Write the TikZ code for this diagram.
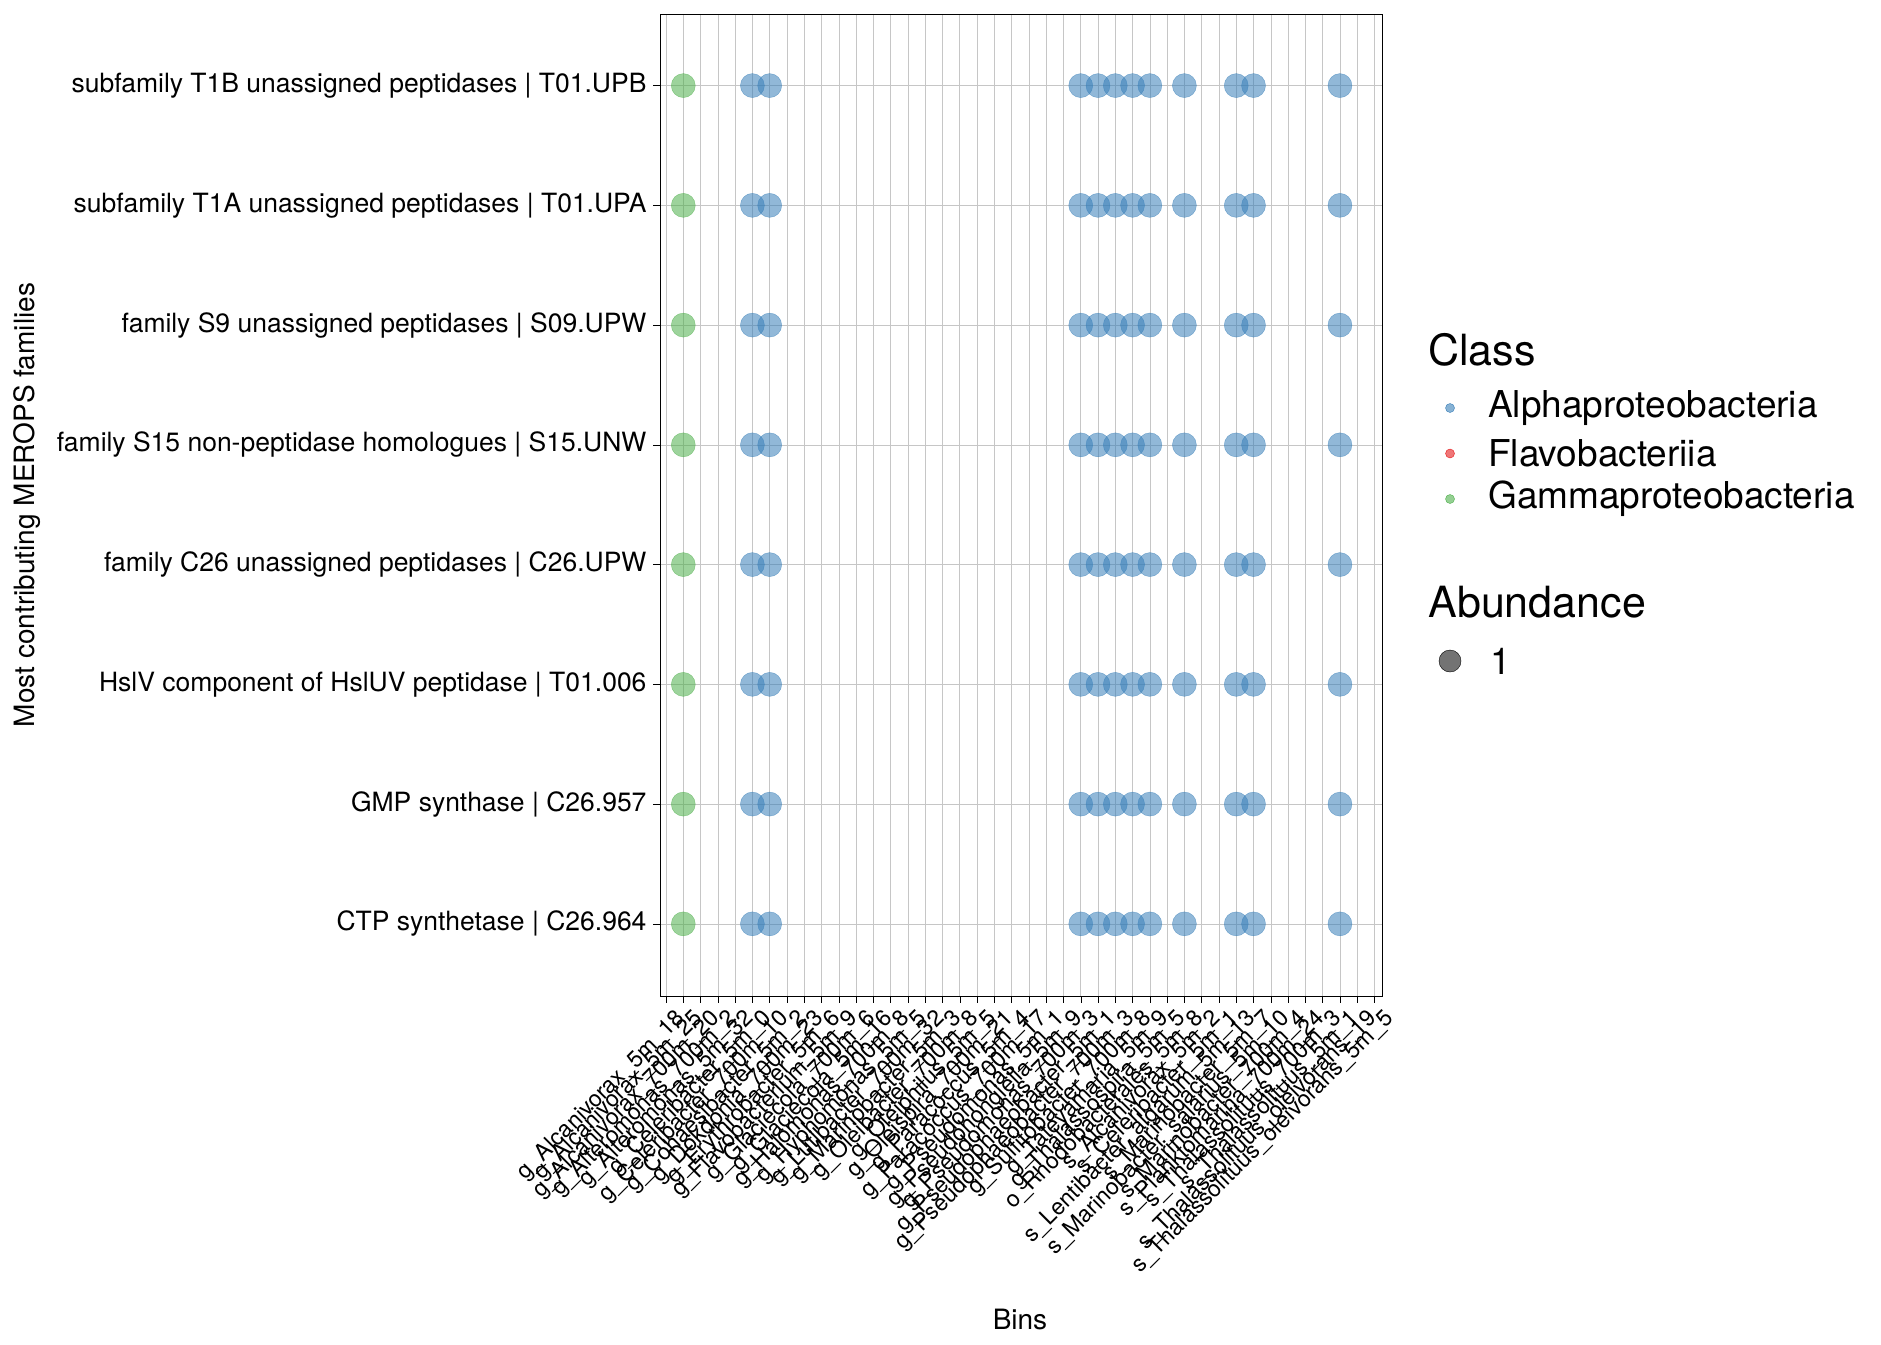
\documentclass[tikz,border=0pt]{standalone}
\usepackage{fontspec}
\setmainfont{TeX Gyre Heros}
\definecolor{alpha}{HTML}{377EB8}
\definecolor{flavo}{HTML}{E41A1C}
\definecolor{gamma}{HTML}{4DAF4A}
\tikzset{
  dot/.style={circle, inner sep=0pt, minimum size=24pt, fill opacity=.55, draw opacity=.6},
  keydot/.style={circle, inner sep=0pt, minimum size=9pt, fill opacity=.6},
  ticklab/.style={anchor=north east, rotate=45, inner sep=1pt, font=\fontsize{23}{23}\selectfont},
  rowlab/.style={anchor=east, font=\fontsize{26.5}{26.5}\selectfont}
}
\begin{document}
\begin{tikzpicture}[x=1pt, y=-1pt]
\useasboundingbox (0,0) rectangle (1881,1344);
% grid
\foreach \i in {0,...,41}
  \draw[gray!45, line width=.6pt] (666+17.28*\i,14) -- (666+17.28*\i,996);
\foreach \r in {0,...,7}
  \draw[gray!45, line width=.6pt] (660,85.6+119.75*\r) -- (1382,85.6+119.75*\r);
\draw[line width=.9pt] (660,14) rectangle (1382,996);
% row labels
\foreach \t [count=\r from 0] in {subfamily T1B unassigned peptidases | T01.UPB,
  subfamily T1A unassigned peptidases | T01.UPA,
  family S9 unassigned peptidases | S09.UPW,
  family S15 non-peptidase homologues | S15.UNW,
  family C26 unassigned peptidases | C26.UPW,
  HslV component of HslUV peptidase | T01.006,
  GMP synthase | C26.957,
  CTP synthetase | C26.964}
{
  \draw (660,85.6+119.75*\r) -- (653,85.6+119.75*\r);
  \node[rowlab] (row\r) at (650,85.6+119.75*\r) {\t};
}
% bins
\foreach \b [count=\i from 0] in {g\_Alcanivorax\_5m\_18, g\_Alcanivorax\_5m\_25, g\_Alcanivorax\_700m\_20,
  g\_Alteromonas\_700m\_2, g\_Alteromonas\_5m\_32, g\_Celeribacter\_5m\_0, g\_Celeribacter\_700m\_10,
  g\_Cohaesibacter\_5m\_2, g\_Dokdonia\_700m\_23, g\_Erythrobacter\_5m\_6, g\_Flavobacterium\_5m\_9,
  g\_Glaciecola\_700m\_6, g\_Glaciecola\_5m\_16, g\_Halomonas\_700m\_8, g\_Hyphomonas\_5m\_5,
  g\_Lutibacter\_700m\_32, g\_Marinobacter\_5m\_3, g\_Oleibacter\_700m\_8, g\_Oleiphilus\_5m\_5,
  g\_Oleispira\_700m\_21, g\_Paracoccus\_5m\_4, g\_Paracoccus\_700m\_17, g\_Pseudomonas\_5m\_1,
  g\_Pseudohongiella\_5m\_9, g\_Pseudomonas\_700m\_3, g\_Pseudophaeobacter\_5m\_1,
  g\_Pseudophaeobacter\_700m\_3, g\_Sulfitobacter\_700m\_8, g\_Tateyamaria\_5m\_9,
  g\_Thalassospira\_5m\_5, o\_Rhodobacterales\_5m\_8, s\_Alcanivorax\_5m\_2,
  s\_Celeribacter\_5m\_1, s\_Lentibacter\_algarum\_5m\_13, s\_Marinobacter\_5m\_7,
  s\_Marinobacter\_salarius\_5m\_10, s\_Marinobacter\_700m\_4, s\_Planktomarina\_700m\_24,
  s\_Thalassolituus\_700m\_3, s\_Thalassolituus\_5m\_1,
  s\_Thalassolituus\_oleivorans\_19, s\_Thalassolituus\_oleivorans\_5m\_5}
{
  \draw (666+17.28*\i,996) -- (666+17.28*\i,1003);
  \node[ticklab] (bin\i) at (666+17.28*\i+8,1006) {\b};
}
% dots
\foreach \r in {0,...,7} {
  \node[dot, fill=gamma, draw=gamma] (g\r) at (666+17.28*1,85.6+119.75*\r) {};
  \foreach \i in {5,6,24,25,26,27,28,30,33,34,39}
    \node[dot, fill=alpha, draw=alpha] (a\r-\i) at (666+17.28*\i,85.6+119.75*\r) {};
}
% axis titles
\node[rotate=90, font=\fontsize{28}{28}\selectfont] (ytitle) at (27,505) {Most contributing MEROPS families};
\node[font=\fontsize{28}{28}\selectfont] (xtitle) at (1020,1319) {Bins};
% legend
\node[anchor=west, inner sep=0pt, font=\fontsize{43}{43}\selectfont] (classkey) at (1428,350) {Class};
\foreach \c/\t [count=\k from 0] in {alpha/Alphaproteobacteria, flavo/Flavobacteriia, gamma/Gammaproteobacteria}
{
  \node[keydot, fill=\c, draw=\c] (kd\k) at (1450,408+45.5*\k) {};
  \node[anchor=west, inner sep=0pt, font=\fontsize{37}{37}\selectfont] (kt\k) at (1488,408+45.5*\k) {\t};
}
\node[anchor=west, inner sep=0pt, font=\fontsize{43}{43}\selectfont] (abkey) at (1428,602) {Abundance};
\node[circle, inner sep=0pt, minimum size=22pt, fill=black, fill opacity=.55, draw=black] (kab) at (1450,661) {};
\node[anchor=west, inner sep=0pt, font=\fontsize{37}{37}\selectfont] (kabt) at (1490,661) {1};
\end{tikzpicture}
\end{document}
